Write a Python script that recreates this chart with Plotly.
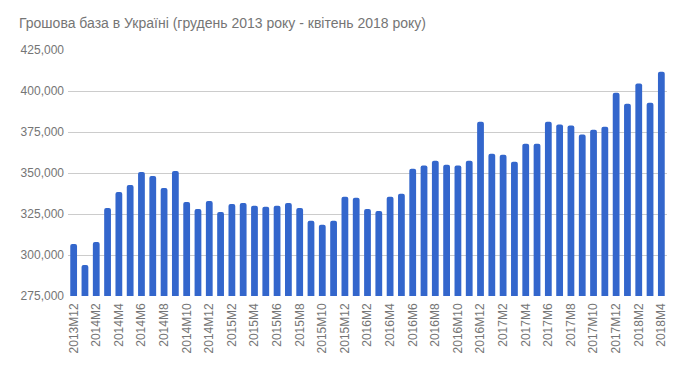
import plotly.graph_objects as go

months = (["2013M12"] +
          [f"2014M{m}" for m in range(1, 13)] +
          [f"2015M{m}" for m in range(1, 13)] +
          [f"2016M{m}" for m in range(1, 13)] +
          [f"2017M{m}" for m in range(1, 13)] +
          [f"2018M{m}" for m in range(1, 5)])

values = [
    306700,
    293900, 307900, 328600, 338400, 342700, 350600, 348200, 340800, 351200, 332300, 328000, 332900,
    326200, 331100, 331700, 330100, 329400, 330100, 331700, 328600, 320900, 318500, 320900, 335500,
    334900, 328000, 326800, 335500, 337400, 352600, 354500, 357500, 355100, 354500, 357500, 381300,
    361800, 361200, 356900, 367900, 367900, 381300, 379500, 378900, 373400, 376400, 378200, 399000,
    392300, 404500, 392900, 411800,
]

tick_labels = months[::2]
y_ticks = [275000, 300000, 325000, 350000, 375000, 400000, 425000]

title_text = "Грошова база в Україні (грудень 2013 року - квітень 2018 року)"

font_family = "Arial, 'Liberation Sans', sans-serif"
gray = "#757575"

# the page body adds an 8px margin, so the figure is drawn 16px smaller
W, H = 669, 355

fig = go.Figure(go.Bar(
    x=months, y=values,
    marker=dict(color="#3366CC", line=dict(width=0), cornerradius=2),
    hoverinfo="x+y",
))

fig.update_layout(
    width=W, height=H,
    margin=dict(l=60, r=10, t=42, b=67, autoexpand=False),
    paper_bgcolor="white", plot_bgcolor="white",
    bargap=0.4,
    showlegend=False,
    font=dict(family=font_family, size=12, color=gray),
    title=dict(text=title_text, x=11/W, xanchor="left", y=1-14.7/H, yanchor="middle",
               font=dict(family=font_family, size=14, color=gray)),
)

fig.update_xaxes(
    type="category", automargin=False,
    tickmode="array", tickvals=tick_labels, ticktext=tick_labels,
    tickangle=-90, showgrid=False, showline=False, ticks="",
    ticklabelstandoff=4,
    tickfont=dict(size=12, color=gray),
)

fig.update_yaxes(
    range=[275000, 425000], tickvals=y_ticks, tickformat=",", automargin=False,
    showgrid=True, gridcolor="#cccccc", gridwidth=1, zeroline=False,
    showline=False, ticks="", ticklabelstandoff=3,
    tickfont=dict(size=12, color=gray),
)

fig.write_html("out.html")
